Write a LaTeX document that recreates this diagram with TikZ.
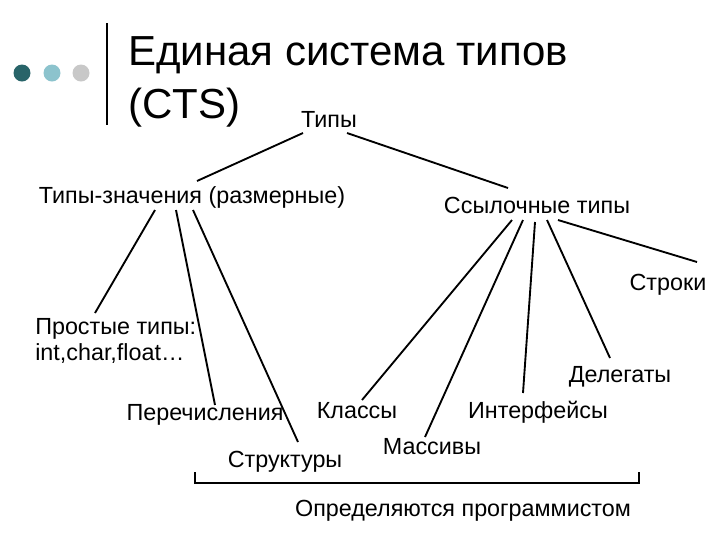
\documentclass[tikz,border=0pt]{standalone}
\usepackage{fontspec}
\setmainfont{Liberation Sans}
\begin{document}
\begin{tikzpicture}[x=0.75pt,y=-0.75pt,
  lbl/.style={font=\fontsize{17.5pt}{20pt}\selectfont,inner sep=0pt},
  ttl/.style={font=\fontsize{31.5pt}{36pt}\selectfont,inner sep=0pt,anchor=base west},
  ln/.style={line width=1.4pt}]
\useasboundingbox (0,0) rectangle (720,540);
\definecolor{dA}{RGB}{40,100,105}\definecolor{dB}{RGB}{140,195,205}\definecolor{dC}{RGB}{200,200,200}
\fill[dA] (22,73) circle (8.5);
\fill[dB] (52,73) circle (8.5);
\fill[dC] (81,73) circle (8.5);
\draw[line width=1.5pt] (107,23) -- (107,125);
\node[ttl] (t1) at (128,65) {Единая система типов};
\node[ttl] (t2) at (128,118) {(CTS)};
\node[lbl] (types) at (329,119) {Типы};
\node[lbl] (val) at (192,197) {Типы-значения (размерные)};
\node[lbl] (ref) at (537,205) {Ссылочные типы};
\node[lbl] (str) at (668,285) {Строки};
\node[lbl,align=left,anchor=north west] (prim) at (35,318) {Простые типы:\\int,char,float…};
\node[lbl] (del) at (620,377) {Делегаты};
\node[lbl] (enum) at (205,415) {Перечисления};
\node[lbl] (cls) at (357,411) {Классы};
\node[lbl] (intf) at (538,412) {Интерфейсы};
\node[lbl] (stru) at (285,462) {Структуры};
\node[lbl] (arr) at (432,447) {Массивы};
\node[lbl] (prog) at (463,511) {Определяются программистом};
% endpoints
\coordinate (a1) at (303,133); \coordinate (a2) at (197,181);
\coordinate (b1) at (347,133); \coordinate (b2) at (508,188);
\coordinate (v1) at (155,210); \coordinate (v1e) at (95,313);
\coordinate (v2) at (176,210); \coordinate (v2e) at (215,405);
\coordinate (v3) at (193,210); \coordinate (v3e) at (298,442);
\coordinate (r1) at (512,220); \coordinate (r1e) at (362,400);
\coordinate (r2) at (523,220); \coordinate (r2e) at (425,437);
\coordinate (r3) at (535,222); \coordinate (r3e) at (523,393);
\coordinate (r4) at (547,220); \coordinate (r4e) at (610,358);
\coordinate (r5) at (558,220); \coordinate (r5e) at (697,262);
\draw[ln] (a1) -- (a2); \draw[ln] (b1) -- (b2);
\draw[ln] (v1) -- (v1e); \draw[ln] (v2) -- (v2e); \draw[ln] (v3) -- (v3e);
\draw[ln] (r1) -- (r1e); \draw[ln] (r2) -- (r2e); \draw[ln] (r3) -- (r3e);
\draw[ln] (r4) -- (r4e); \draw[ln] (r5) -- (r5e);
\coordinate (k1) at (195,472); \coordinate (k2) at (639,472);
\draw[ln] (k1) -- (195,483) -- (639,483) -- (k2);
\end{tikzpicture}
\end{document}
